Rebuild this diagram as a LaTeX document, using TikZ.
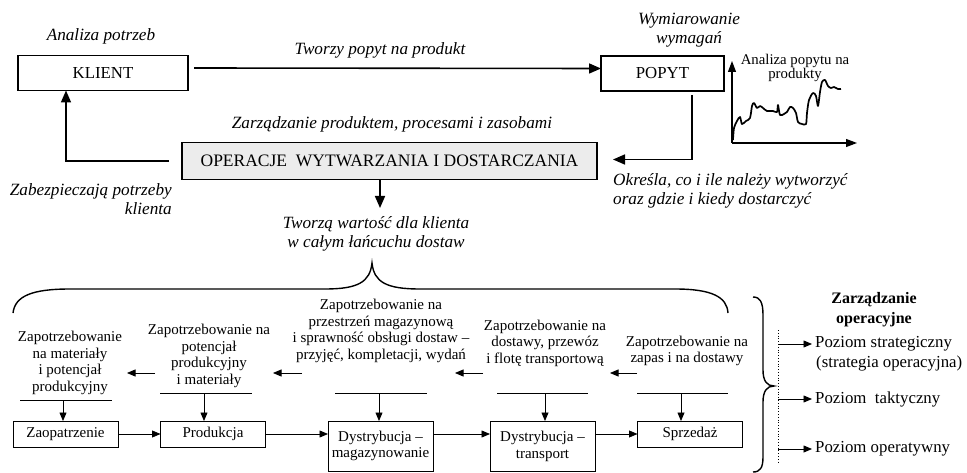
\documentclass[tikz,border=0pt]{standalone}
\usepackage{fontspec}
\setmainfont{Liberation Serif}
\usetikzlibrary{arrows.meta,calc}
\definecolor{opfill}{RGB}{236,236,236}

\begin{document}
\begin{tikzpicture}[x=1pt,y=-1pt,
  topbox/.style={draw, line width=1.5pt, inner sep=0pt, outer sep=0pt,
                 font=\fontsize{16.8}{19}\selectfont},
  lowbox/.style={draw, line width=0.8pt, inner sep=0pt, outer sep=0pt, align=center,
                 minimum width=105pt, font=\fontsize{15}{16.8}\selectfont},
  toptext/.style={inner sep=0pt, font=\fontsize{17.2}{19.5}\selectfont\itshape, align=center},
  lowtext/.style={inner sep=0pt, font=\fontsize{15}{16.6}\selectfont, align=center},
  lvltext/.style={inner sep=0pt, anchor=west, font=\fontsize{16.8}{19}\selectfont},
  bigarrow/.style={line width=1.6pt, -{Triangle[length=12pt,width=10pt]}},
  axisarrow/.style={line width=1.1pt, -{Triangle[length=11pt,width=8pt]}},
  thinarrow/.style={line width=0.75pt, -{Triangle[length=8.5pt,width=7pt]}},
  shelf/.style={line width=0.75pt},
  brace/.style={line width=1.4pt},
]
\useasboundingbox (0,0) rectangle (967,473);

% ---------- upper part: customer, demand, operations ----------
\node[toptext] (analiza) at (101,36) {Analiza potrzeb};
\node[topbox, minimum width=170pt, minimum height=35pt] (klient) at (103,73) {KLIENT};
\node[topbox, minimum width=123pt, minimum height=35pt] (popyt) at (662.5,73.5) {POPYT};
\node[toptext] (tworzy) at (380,50) {Tworzy popyt na produkt};
\node[toptext] (wymiar) at (689,30) {Wymiarowanie\\wymagań};

\node[toptext] (zarzadz) at (392,124) {Zarządzanie produktem, procesami i zasobami};
\node[topbox, fill=opfill, minimum width=415pt, minimum height=37pt,
      font=\fontsize{17.5}{19}\selectfont] (oper) at (389.5,161)
      {OPERACJE\ \ WYTWARZANIA I DOSTARCZANIA};

\node[toptext, anchor=east, align=right] (zabezp) at (172,199) {Zabezpieczają potrzeby\\klienta};
\node[toptext, anchor=west, align=left] (okresla) at (613,191)
      {Określa, co i ile należy wytworzyć\\oraz gdzie i kiedy dostarczyć};
\node[toptext] (tworza) at (376,234) {Tworzą wartość dla klienta\\w całym łańcuchu dostaw};

\draw[bigarrow] ([xshift=6pt,yshift=5pt]klient.east) -- ([yshift=5pt]popyt.west);
\draw[bigarrow] ([xshift=-13pt]oper.west) -| ([xshift=48pt]klient.south west);
\draw[bigarrow] ([xshift=29.5pt,yshift=-4pt]popyt.south) |- ([xshift=16pt,yshift=1.5pt]oper.east);
\coordinate (valtip) at (380,208);
\draw[bigarrow] (oper.south -| valtip) -- (valtip);

% ---------- demand chart ----------
\coordinate (origin) at (732,143);
\coordinate (ytip) at (732,61);
\coordinate (xtip) at (857,143);
\draw[axisarrow] (origin) -- (ytip);
\draw[axisarrow] (origin) -- (xtip);
\node[lowtext, font=\fontsize{14.8}{13.5}\selectfont] (popytlbl) at (795,68)
      {Analiza popytu na\\produkty};
\draw[line width=1.7pt, line join=round] plot[smooth, tension=0.5] coordinates {
  (733,140) (734,128) (737,121) (740,117) (742,124) (746,121) (750,118)
  (752,106) (754,103) (757,108) (760,106) (763,108) (767,111) (773,111)
  (777,112) (778,105) (780,115) (784,114) (787,112) (790,107) (793,108)
  (796,113) (798,122) (802,124) (806,124) (807,113) (809,100) (813,93)
  (816,96) (818,106) (820,92) (822,82) (825,80) (828,86) (831,88)
  (834,87) (838,89) (841,89)};

% ---------- big brace over the supply chain ----------
\coordinate (brL) at (13,313);
\coordinate (brP) at (372,263);
\coordinate (brR) at (728,313);
\draw[brace] (brL) .. controls (15,296) and (32,289) .. (70,289)
  -- (325,289) .. controls (358,289) and (370,282) .. (brP)
  .. controls (374,282) and (386,289) .. (420,289)
  -- (675,289) .. controls (712,289) and (727,297) .. (brR);

% ---------- demand descriptions ----------
\node[lowtext] (d1) at (70,363) {Zapotrzebowanie\\na materiały\\i potencjał\\produkcyjny};
\node[lowtext] (d2) at (209,356) {Zapotrzebowanie na\\potencjał\\produkcyjny\\i materiały};
\node[lowtext] (d3) at (381,331) {Zapotrzebowanie na\\przestrzeń magazynową\\i sprawność obsługi dostaw –\\przyjęć, kompletacji, wydań};
\node[lowtext] (d4) at (545,343) {Zapotrzebowanie na\\dostawy, przewóz\\i flotę transportową};
\node[lowtext] (d5) at (687,351) {Zapotrzebowanie na\\zapas i na dostawy};

\coordinate (a1s) at (155,373); \coordinate (a1e) at (127,373);
\coordinate (a2s) at (302,373); \coordinate (a2e) at (273,373);
\coordinate (a3s) at (483,373); \coordinate (a3e) at (455,373);
\coordinate (a4s) at (637,373); \coordinate (a4e) at (610,373);
\draw[thinarrow] (a1s) -- (a1e);
\draw[thinarrow] (a2s) -- (a2e);
\draw[thinarrow] (a3s) -- (a3e);
\draw[thinarrow] (a4s) -- (a4e);

% ---------- supply chain links ----------
\node[lowbox, minimum height=26pt] (zaop) at (65.5,434) {Zaopatrzenie};
\node[lowbox, minimum height=26pt] (prod) at (213,434) {Produkcja};
\node[lowbox, minimum height=50pt] (dmag) at (380.5,446) {Dystrybucja –\\magazynowanie};
\node[lowbox, minimum height=50pt] (dtra) at (542.5,446) {Dystrybucja –\\transport};
\node[lowbox, minimum height=26pt] (sprz) at (690,434) {Sprzedaż};

\draw[thinarrow] (zaop.east) -- (prod.west);
\draw[thinarrow] (prod.east) -- (prod.east -| dmag.west);
\draw[thinarrow] (prod.east -| dmag.east) -- (prod.east -| dtra.west);
\draw[thinarrow] (prod.east -| dtra.east) -- (sprz.west);

% shelves with arrows down to each link
\coordinate (s1l) at (20,400);  \coordinate (s1r) at (112,400); \coordinate (s1c) at (63,400);
\coordinate (s2l) at (160,393); \coordinate (s2r) at (252,393); \coordinate (s2c) at (204,393);
\coordinate (s3l) at (335,393); \coordinate (s3r) at (427,393); \coordinate (s3c) at (379,393);
\coordinate (s4l) at (497,393); \coordinate (s4r) at (588,393); \coordinate (s4c) at (545,393);
\coordinate (s5l) at (637,393); \coordinate (s5r) at (728,393); \coordinate (s5c) at (681,393);
\draw[shelf] (s1l) -- (s1r);
\draw[shelf] (s2l) -- (s2r);
\draw[shelf] (s3l) -- (s3r);
\draw[shelf] (s4l) -- (s4r);
\draw[shelf] (s5l) -- (s5r);
\draw[thinarrow] (s1c) -- (s1c |- zaop.north);
\draw[thinarrow] (s2c) -- (s2c |- prod.north);
\draw[thinarrow] (s3c) -- (s3c |- dmag.north);
\draw[thinarrow] (s4c) -- (s4c |- dtra.north);
\draw[thinarrow] (s5c) -- (s5c |- sprz.north);

% ---------- operations management levels ----------
\coordinate (vbT) at (753,297);
\coordinate (vbM) at (774,386);
\coordinate (vbB) at (753,472);
\draw[brace] (vbT) .. controls (760,297) and (763,302) .. (763,315)
  -- (763,370) .. controls (763,381) and (767,386) .. (vbM)
  .. controls (767,386) and (763,391) .. (763,402)
  -- (763,457) .. controls (763,468) and (760,472) .. (vbB);

\node[inner sep=0pt, align=center, font=\fontsize{16}{20}\selectfont\bfseries] (zo) at (874,310)
      {Zarządzanie\\operacyjne};

\coordinate (dotT) at (778,330);
\coordinate (dotB) at (778,463);
\draw[dotted, line width=0.8pt] (dotT) -- (dotB);

\node[lvltext] (lv1) at (815,344) {Poziom strategiczny};
\node[lvltext] (lv1b) at (816,363) {(strategia operacyjna)};
\node[lvltext] (lv2) at (815,399) {Poziom\ \ taktyczny};
\node[lvltext] (lv3) at (815,449) {Poziom operatywny};

\draw[thinarrow] (lv1.west -| dotT) -- ([xshift=-3pt]lv1.west);
\draw[thinarrow] (lv2.west -| dotT) -- ([xshift=-3pt]lv2.west);
\draw[thinarrow] (lv3.west -| dotT) -- ([xshift=-3pt]lv3.west);
\end{tikzpicture}
\end{document}
